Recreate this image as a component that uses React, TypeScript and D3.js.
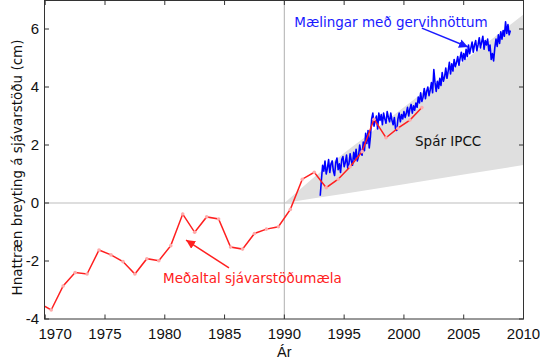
import React from "react";
import * as d3 from "d3";

const W = 540;
const H = 361;

// Tide gauge (red) annual means, cm
const gaugeYears = [1969.5,1970.5,1971.5,1972.5,1973.5,1974.5,1975.5,1976.5,1977.5,1978.5,1979.5,1980.5,1981.5,1982.5,1983.5,1984.5,1985.5,1986.5,1987.5,1988.5,1989.5,1990.5,1991.5,1992.5,1993.5,1994.5,1995.5,1996.5,1997.5,1998.5,1999.5,2000.5,2001.5];
const gaugeValues = [-3.45,-3.69,-2.86,-2.40,-2.45,-1.62,-1.79,-2.02,-2.45,-1.92,-1.99,-1.47,-0.38,-1.01,-0.48,-0.55,-1.52,-1.59,-1.05,-0.90,-0.82,-0.22,0.82,1.06,0.53,0.82,1.25,1.77,2.89,2.25,2.58,2.86,3.29];

// Satellite altimetry (blue), start year and step 0.1 yr
const satStart = 1993.0;
const satStep = 0.1;
const satValues = [
  0.25,0.8,1.3,1.1,1.45,1.0,1.2,1.5,1.05,1.35,
  1.45,1.1,0.95,1.4,1.55,1.15,1.35,1.05,1.5,1.6,
  1.25,1.4,1.65,1.2,1.35,1.7,1.45,1.3,1.75,1.5,
  1.85,1.45,1.6,2.0,1.75,1.65,2.1,1.8,2.4,2.05,
  2.5,1.9,2.3,2.9,3.1,2.65,2.85,3.0,2.55,3.1,
  2.85,3.05,2.7,3.1,2.9,2.75,3.15,2.95,2.8,3.1,
  2.85,2.7,2.95,2.55,2.5,2.9,3.1,2.8,3.05,2.9,
  3.15,2.95,3.1,3.3,3.0,3.25,3.4,3.1,3.35,3.2,
  3.45,3.3,3.65,3.45,3.8,3.5,3.65,3.95,3.6,3.85,
  4.0,3.7,3.9,4.15,3.8,4.6,4.15,3.85,4.2,3.95,
  4.3,4.05,4.5,4.2,4.35,4.65,4.3,4.55,4.85,4.45,
  4.8,4.55,4.95,4.7,4.85,5.05,4.75,5.0,5.2,4.9,
  5.15,4.95,5.3,5.05,5.45,5.15,5.35,5.55,5.2,5.45,
  5.6,5.25,5.45,5.7,5.35,5.55,5.75,5.3,5.6,5.45,
  5.65,5.25,5.45,4.95,5.15,4.9,5.35,5.65,5.4,5.8,
  5.5,5.9,5.65,5.95,5.75,6.25,5.85,6.15,5.8,5.95,
];

// IPCC projection envelope
const ipccYears = [1990, 1992.5, 1995, 2000, 2005, 2010];
const ipccLow = [0, 0.16, 0.32, 0.65, 0.98, 1.31];
const ipccHigh = [0, 0.9, 1.72, 3.3, 4.9, 6.5];

const xTicks = [1970, 1975, 1980, 1985, 1990, 1995, 2000, 2005, 2010];
const yTicks = [-4, -2, 0, 2, 4, 6];

const yLabel = "Hnattræn breyting á sjávarstöðu (cm)";
const xLabel = "Ár";
const satLabel = "Mælingar með gervihnöttum";
const gaugeLabel = "Meðaltal sjávarstöðumæla";
const ipccLabel = "Spár IPCC";

const M = { left: 44.5, right: 523.5, top: 0.5, bottom: 319 };

export default function App() {
  const x = d3.scaleLinear().domain([1969.94, 2010]).range([M.left, M.right]);
  const y = d3.scaleLinear().domain([-4, 7]).range([M.bottom, 0]);

  const band = d3
    .area<number>()
    .x((_, i) => x(ipccYears[i]))
    .y0((_, i) => y(ipccLow[i]))
    .y1((_, i) => y(ipccHigh[i]))(ipccYears);

  const gaugeLine = d3
    .line<number>()
    .x((_, i) => x(gaugeYears[i]))
    .y((d) => y(d))(gaugeValues);

  const satLine = d3
    .line<number>()
    .x((_, i) => x(satStart + i * satStep))
    .y((d) => y(d))(satValues);

  const tickLen = 4.5;
  const frame = "#333";
  const sans = "'Liberation Sans', Arial, sans-serif";
  const deja = "'DejaVu Sans', sans-serif";

  return (
    <svg width={W} height={H} style={{ position: "absolute", left: 0, top: 0, background: "#fff" }}>
      <defs>
        <clipPath id="plot">
          <rect x={M.left} y={M.top} width={M.right - M.left} height={M.bottom - M.top} />
        </clipPath>
        <marker id="headB" viewBox="0 0 10 10" refX="10" refY="5" markerWidth="9" markerHeight="9" markerUnits="userSpaceOnUse" orient="auto">
          <path d="M0,0 L10,5 L0,10 z" fill="#1a1aff" />
        </marker>
        <marker id="headR" viewBox="0 0 10 10" refX="10" refY="5" markerWidth="9" markerHeight="9" markerUnits="userSpaceOnUse" orient="auto">
          <path d="M0,0 L10,5 L0,10 z" fill="#ff2020" />
        </marker>
      </defs>

      <g clipPath="url(#plot)">
        <path d={band ?? ""} fill="#dfdfdf" />
        <line x1={M.left} x2={M.right} y1={y(0)} y2={y(0)} stroke="#bdbdbd" strokeWidth={1.2} />
        <line x1={x(1990)} x2={x(1990)} y1={M.top} y2={M.bottom} stroke="#bdbdbd" strokeWidth={1.2} />
        <path d={satLine ?? ""} fill="none" stroke="#0000ff" strokeWidth={1.6} strokeLinejoin="round" />
        <path d={gaugeLine ?? ""} fill="none" stroke="#ff2020" strokeWidth={1.5} />
        {gaugeValues.map((v, i) => (
          <circle key={i} cx={x(gaugeYears[i])} cy={y(v)} r={1.8} fill="#ffaaaa" />
        ))}
      </g>

      {/* frame */}
      <rect x={M.left} y={M.top} width={M.right - M.left} height={M.bottom - M.top} fill="none" stroke={frame} strokeWidth={1} />

      {/* x ticks */}
      {xTicks.map((t, i) => (
        <g key={t}>
          <line x1={x(t)} x2={x(t)} y1={M.bottom} y2={M.bottom - tickLen} stroke={frame} />
          <line x1={x(t)} x2={x(t)} y1={M.top} y2={M.top + tickLen} stroke={frame} />
          <text x={x(t)} dx={i === 0 ? 10 : 0} y={339} textAnchor="middle" fontFamily={sans} fontSize={15} fill="#111">
            {t}
          </text>
        </g>
      ))}
      {/* y ticks */}
      {yTicks.map((t) => (
        <g key={t}>
          <line x1={M.left} x2={M.left + tickLen} y1={y(t)} y2={y(t)} stroke={frame} />
          <line x1={M.right} x2={M.right - tickLen} y1={y(t)} y2={y(t)} stroke={frame} />
          <text x={39} y={y(t)} dy="0.36em" textAnchor="end" fontFamily={sans} fontSize={15} fill="#111">
            {t}
          </text>
        </g>
      ))}

      <text x={x(1990)} y={357} textAnchor="middle" fontFamily={sans} fontSize={14.5} fill="#111">
        {xLabel}
      </text>
      <text transform={`translate(22,167.5) rotate(-90)`} textAnchor="middle" fontFamily={deja} fontSize={13.5} fill="#111">
        {yLabel}
      </text>

      {/* annotations */}
      <text x={x(1990.83)} y={y(6.08)} fontFamily={deja} fontSize={13.5} fill="#1a1aff">
        {satLabel}
      </text>
      <line x1={x(2001.5)} y1={y(6.03)} x2={x(2005.36)} y2={y(5.38)} stroke="#1a1aff" strokeWidth={1.5} markerEnd="url(#headB)" />
      <text x={x(1979.86)} y={y(-2.76)} fontFamily={deja} fontSize={13.5} fill="#ff2020">
        {gaugeLabel}
      </text>
      <line x1={x(1985.37)} y1={y(-2.24)} x2={x(1981.78)} y2={y(-1.28)} stroke="#ff2020" strokeWidth={1.5} markerEnd="url(#headR)" />
      <text x={x(2000.93)} y={y(1.98)} fontFamily={deja} fontSize={13.5} fill="#111">
        {ipccLabel}
      </text>
    </svg>
  );
}
